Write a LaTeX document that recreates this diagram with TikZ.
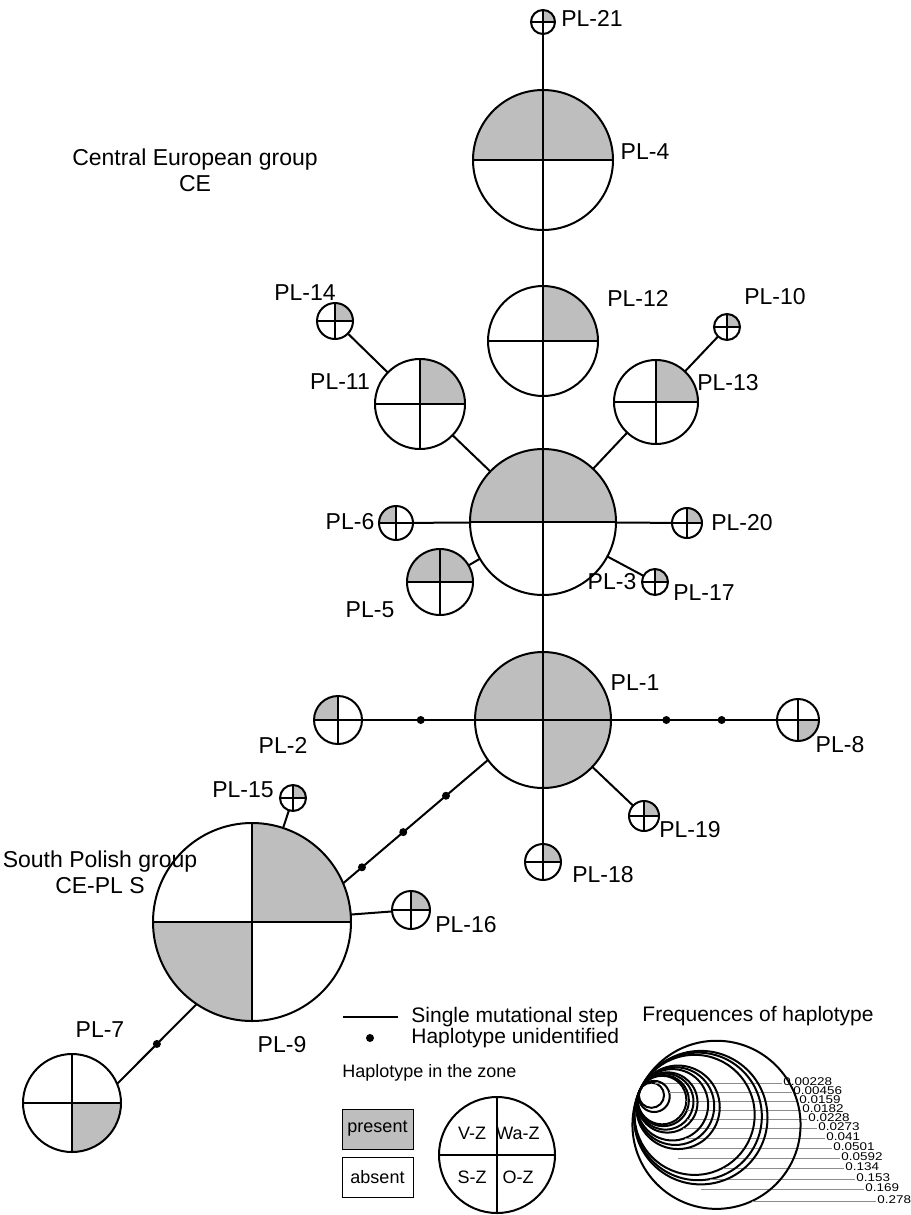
\documentclass[tikz,border=0pt]{standalone}
\usepackage{fontspec}
\setmainfont{Liberation Sans}
\usetikzlibrary{positioning}
\definecolor{hapgrey}{HTML}{BEBEBE}
\definecolor{leader}{HTML}{8C8C8C}

\tikzset{
  hap/.style={circle, draw, line width=1pt, inner sep=0pt, outer sep=0pt},
  cross/.style={line width=0.55pt},
  link/.style={line width=1pt},
  lbl/.style={font=\fontsize{11.5}{13}\selectfont, inner sep=0pt},
  legtxt/.style={font=\fontsize{10.5}{12}\selectfont, inner sep=0pt},
  smalltxt/.style={font=\fontsize{9}{10}\selectfont, inner sep=0pt},
  freqtxt/.style={font=\fontsize{5.6}{6}\selectfont, inner sep=0pt, xscale=1.2},
  unident/.style={circle, fill, inner sep=0pt, minimum size=4pt},
  legbox/.style={draw, line width=0.5pt, minimum width=35.5pt, minimum height=20pt,
    inner sep=0pt, font=\fontsize{9}{10}\selectfont},
  freq/.style={line width=1pt},
  leadline/.style={draw=leader, line width=0.35pt}
}

% haplotype pie: name, x, y, radius, V-Z, Wa-Z, S-Z, O-Z
\newcommand{\haplo}[8]{%
  \fill[#5] (#2,#3) -- ++(180:#4) arc[start angle=180, end angle=90, radius=#4] -- cycle;
  \fill[#6] (#2,#3) -- ++(90:#4) arc[start angle=90, end angle=0, radius=#4] -- cycle;
  \fill[#7] (#2,#3) -- ++(270:#4) arc[start angle=270, end angle=180, radius=#4] -- cycle;
  \fill[#8] (#2,#3) -- ++(0:#4) arc[start angle=360, end angle=270, radius=#4] -- cycle;
  \draw[cross] (#2-#4,#3) -- (#2+#4,#3) (#2,#3-#4) -- (#2,#3+#4);
  \node[hap, minimum size=#4pt] (#1) at (#2,#3) {};
}

\begin{document}
\begin{tikzpicture}[x=0.5pt,y=0.5pt]
\useasboundingbox (0,0) rectangle (910,-1215);

% Central European group
\haplo{pl21}{543}{-22}{12}{white}{hapgrey}{white}{white}
\haplo{pl4}{543}{-160}{70}{hapgrey}{hapgrey}{white}{white}
\haplo{pl12}{543}{-341}{55}{white}{hapgrey}{white}{white}
\haplo{pl14}{335}{-321}{18}{white}{hapgrey}{white}{white}
\haplo{pl11}{420}{-404}{45}{white}{hapgrey}{white}{white}
\haplo{pl10}{727}{-327}{13}{white}{hapgrey}{white}{white}
\haplo{pl13}{656}{-402}{42}{white}{hapgrey}{white}{white}
\haplo{pl3}{543}{-522}{73}{hapgrey}{hapgrey}{white}{white}
\haplo{pl6}{396}{-523}{17}{hapgrey}{white}{white}{white}
\haplo{pl20}{687}{-523}{15}{white}{hapgrey}{white}{white}
\haplo{pl17}{655}{-582}{13}{white}{hapgrey}{white}{white}
\haplo{pl5}{440}{-582}{33}{hapgrey}{hapgrey}{white}{white}
\haplo{pl1}{543}{-720}{68}{hapgrey}{hapgrey}{white}{hapgrey}
\haplo{pl2}{338}{-720}{24}{hapgrey}{white}{white}{white}
\haplo{pl8}{798}{-720}{21}{white}{white}{white}{hapgrey}
\haplo{pl19}{644}{-816}{15}{white}{hapgrey}{white}{white}
\haplo{pl18}{543}{-862}{18}{white}{hapgrey}{white}{white}

% South Polish group
\haplo{pl9}{252}{-922}{99}{white}{hapgrey}{hapgrey}{white}
\haplo{pl15}{293}{-798}{13}{white}{hapgrey}{white}{white}
\haplo{pl16}{411}{-910}{19}{white}{hapgrey}{white}{white}
\haplo{pl7}{72}{-1103}{49}{white}{white}{white}{hapgrey}

% mutational steps
\draw[link] (pl21) -- (pl4);
\draw[link] (pl4) -- (pl12);
\draw[link] (pl12) -- (pl3);
\draw[link] (pl14) -- (pl11);
\draw[link] (pl11) -- (pl3);
\draw[link] (pl10) -- (pl13);
\draw[link] (pl13) -- (pl3);
\draw[link] (pl6) -- (pl3);
\draw[link] (pl20) -- (pl3);
\draw[link] (pl5) -- (pl3);
\draw[link] (pl17) -- (pl3);
\draw[link] (pl3) -- (pl1);
\draw[link] (pl1) -- (pl18);
\draw[link] (pl1) -- (pl19);
\draw[link] (pl2) -- node[unident, pos=.52] (u1) {} (pl1);
\draw[link] (pl1) -- node[unident, pos=1/3] (u2) {} node[unident, pos=2/3] (u3) {} (pl8);
\draw[link] (pl1.216) -- node[unident, pos=.29] (u4) {} node[unident, pos=.585] (u5) {}
  node[unident, pos=.87] (u6) {} (pl9.23);
\draw[link] (pl7.23) -- node[unident, pos=.5] (u7) {} (pl9.236);
\draw[link] (pl15) -- (pl9);
\draw[link] (pl16) -- (pl9);

% labels
\node[lbl] (t21) at (592,-18) {PL-21};
\node[lbl] (t4) at (645,-152) {PL-4};
\node[lbl] (t14) at (305,-293) {PL-14};
\node[lbl] (t12) at (638,-298) {PL-12};
\node[lbl] (t10) at (775,-297) {PL-10};
\node[lbl] (t11) at (340,-382) {PL-11};
\node[lbl] (t13) at (728,-383) {PL-13};
\node[lbl] (t6) at (350,-522) {PL-6};
\node[lbl] (t20) at (742,-523) {PL-20};
\node[lbl] (t3) at (612,-582) {PL-3};
\node[lbl] (t17) at (704,-593) {PL-17};
\node[lbl] (t5) at (370,-610) {PL-5};
\node[lbl] (t1) at (635,-683) {PL-1};
\node[lbl] (t2) at (283,-745) {PL-2};
\node[lbl] (t8) at (840,-745) {PL-8};
\node[lbl] (t19) at (690,-830) {PL-19};
\node[lbl] (t18) at (603,-875) {PL-18};
\node[lbl] (t15) at (243,-790) {PL-15};
\node[lbl] (t16) at (466,-925) {PL-16};
\node[lbl] (t7) at (100,-1030) {PL-7};
\node[lbl] (t9) at (282,-1045) {PL-9};
\node[lbl, align=center] (gce) at (195,-170) {Central European group\\CE};
\node[lbl, align=center] (gpl) at (100,-872) {South Polish group\\CE-PL S};

% legend
\coordinate (stepA) at (343,-1017);
\coordinate (stepB) at (398,-1017);
\draw[link] (stepA) -- (stepB);
\node[unident] (udot) at (370,-1038) {};
\node[legtxt, anchor=west] (tstep) at (411,-1017) {Single mutational step};
\node[legtxt, anchor=west] (tunid) at (411,-1038) {Haplotype unidentified};
\node[smalltxt, anchor=west] (tzone) at (342,-1073) {Haplotype in the zone};
\node[legbox, fill=hapgrey] (present) at (377.5,-1129) {present};
\node[legbox] (absent) at (377.5,-1177) {absent};
\draw[cross] (439,-1155) -- (555,-1155) (497,-1097) -- (497,-1213);
\node[hap, minimum size=58pt] (zone) at (497,-1155) {};
\node[smalltxt] (zvz) at (472,-1133) {V-Z};
\node[smalltxt] (zwz) at (518,-1133) {Wa-Z};
\node[smalltxt] (zsz) at (472,-1177) {S-Z};
\node[smalltxt] (zoz) at (518,-1177) {O-Z};

% frequency circles
\node[legtxt] (tfreq) at (758,-1016) {Frequences of haplotype};
\foreach \f/\ly/\lx [count=\i] in {0.00228/1082/783, 0.00456/1091/793, 0.0159/1100/799,
    0.0182/1109/802, 0.0228/1118/808, 0.0273/1127/818, 0.041/1137/826, 0.0501/1147/833,
    0.0592/1157/841, 0.134/1167/845, 0.153/1178/856, 0.169/1188/865, 0.278/1200/877} {
  \pgfmathsetmacro\r{5.5+149*sqrt(\f)}
  \pgfmathsetmacro\cx{640+0.91*\r}
  \pgfmathsetmacro\cy{1090+0.414*\r}
  \pgfmathsetmacro\dx{sqrt(max(\r*\r-(\ly+1-\cy)*(\ly+1-\cy),0))}
  \draw[freq] (\cx,-\cy) circle[radius=\r];
  \draw[leadline] (\cx+\dx,-\ly-1) -- (\lx-1,-\ly-1);
  \node[freqtxt, anchor=west] (fq\i) at (\lx,-\ly) {\f};
}
\end{tikzpicture}
\end{document}
